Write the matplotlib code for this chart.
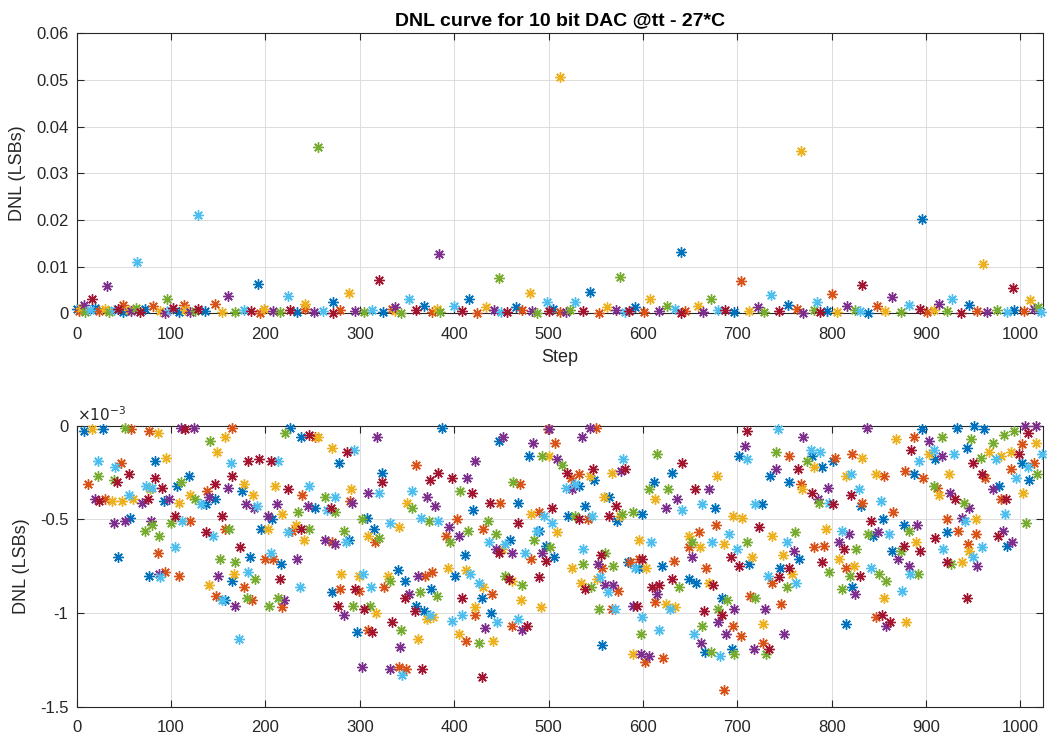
import matplotlib
matplotlib.use("Agg")
import matplotlib.pyplot as plt
from matplotlib.ticker import FuncFormatter

plt.rcParams.update({
    'font.family': ['Liberation Sans', 'DejaVu Sans'],
    'font.size': 12,
    'axes.unicode_minus': False,
})

# MATLAB default colour order
colors = ['#0072BD', '#D95319', '#EDB120', '#7E2F8E', '#77AC30', '#4DBEEE', '#A2142F']

# ---- top plot: positive DNL (LSB) ----
spike_steps = [128, 256, 384, 512, 640, 768, 896, 960]
spike_vals = [0.0211, 0.0357, 0.0127, 0.0506, 0.0131, 0.0348, 0.0203, 0.0107]

mid_steps = [8, 16, 32, 49, 64, 81, 96, 114, 146, 160,
             192, 224, 242, 272, 288, 320, 337, 352, 368, 400,
             416, 434, 448, 466, 480, 498, 528, 544, 562, 576,
             592, 608, 626, 658, 672, 704, 722, 736, 754, 784,
             800, 816, 832, 848, 864, 882, 914, 928, 946, 992,
             1010, 1019]
mid_vals = [0.0018, 0.0032, 0.0059, 0.0018, 0.0111, 0.0016, 0.0032, 0.0018, 0.0021, 0.0038,
            0.0063, 0.0038, 0.0021, 0.0025, 0.0043, 0.0071, 0.0014, 0.0030, 0.0016, 0.0016,
            0.0030, 0.0014, 0.0077, 0.0014, 0.0043, 0.0025, 0.0025, 0.0046, 0.0014, 0.0079,
            0.0014, 0.0030, 0.0016, 0.0016, 0.0032, 0.0069, 0.0014, 0.0039, 0.0019, 0.0025,
            0.0041, 0.0016, 0.0062, 0.0016, 0.0036, 0.0018, 0.0021, 0.0032, 0.0018, 0.0054,
            0.0029, 0.0014]

low_steps_a = [0, 2, 5, 9, 14, 19, 24, 30, 34, 39, 44, 49, 55, 58, 63, 67, 72, 88, 93, 99,
               102, 108, 115, 120, 125, 129, 136, 154, 168, 177, 185, 194, 198, 208, 215, 226,
               233, 242, 251, 261, 272, 279, 295, 304, 313, 325, 334]
low_vals_a = [0.0010, 0.0006, 0.0012, 0.0004, 0.0008, 0.0011, 0.0005, 0.0009, 0.0003, 0.0007,
              0.0010, 0.0004, 0.0008, 0.0006, 0.0012, 0.0003, 0.0009, 0.0005, 0.0002, 0.0007,
              0.0011, 0.0004, 0.0008, 0.0003, 0.0006, 0.0010, 0.0005, 0.0004, 0.0003, 0.0008,
              0.0006, 0.0002, 0.0009, 0.0005, 0.0003, 0.0007, 0.0004, 0.0010, 0.0003, 0.0006,
              0.0002, 0.0008, 0.0005, 0.0003, 0.0007, 0.0004, 0.0009]
low_steps_b = [337, 344, 360, 376, 382, 385, 408, 424, 442, 450, 456, 472, 482, 488, 500, 505,
               512, 518, 523, 537, 553, 571, 581, 585, 601, 617, 634, 640, 645, 664, 680]
low_vals_b = [0.0005, 0.0002, 0.0008, 0.0004, 0.0009, 0.0003, 0.0006, 0.0002, 0.0007, 0.0004,
              0.0003, 0.0008, 0.0005, 0.0002, 0.0006, 0.0009, 0.0004, 0.0003, 0.0007, 0.0005,
              0.0002, 0.0008, 0.0004, 0.0006, 0.0003, 0.0005, 0.0009, 0.0002, 0.0006, 0.0004,
              0.0007]
low_steps_c = [687, 696, 712, 728, 744, 763, 770, 781, 788, 795, 806, 825, 830, 838, 857, 873,
               894, 901, 908, 922, 937, 954, 965, 975, 986, 993, 1004, 1014, 1022]
low_vals_c = [0.0008, 0.0004, 0.0006, 0.0003, 0.0005, 0.0009, 0.0002, 0.0007, 0.0004, 0.0006,
              0.0003, 0.0008, 0.0005, 0.0002, 0.0006, 0.0004, 0.0009, 0.0003, 0.0007, 0.0005,
              0.0002, 0.0006, 0.0004, 0.0008, 0.0003, 0.0007, 0.0005, 0.0009, 0.0004]

# ---- bottom plot: negative DNL (x1e-3 LSB) ----
neg_steps_1 = [8, 16, 28, 51, 58, 77, 86, 110, 115, 124, 165, 141, 157, 149, 226, 221, 238, 246, 23, 83,
               95, 41, 47, 55, 23, 39, 43, 12, 73, 83, 90, 80, 78, 119, 106, 111, 146, 160, 163, 164,
               177, 182, 193, 206, 213, 210, 224, 239, 246, 175, 187, 19, 24, 30, 37, 48, 55, 60, 69, 76,
               92, 98, 108, 120, 125, 132, 138, 140, 147, 137, 179, 188, 191, 203, 212, 218, 234, 245, 39, 51,
               56, 79, 100, 104, 112, 120, 154, 207, 238, 232, 246, 224, 228, 241, 72, 80, 87, 137, 144, 157,
               161, 195, 203, 44, 86, 104, 152, 173, 184, 168, 206, 208, 200, 216, 233, 77, 87, 93, 88, 108,
               150, 167, 182, 189, 215, 237, 140, 148, 154, 157, 177, 165, 180, 186, 168, 204, 213, 220, 217, 172]
neg_vals_1 = [-0.03, -0.02, -0.02, -0.01, -0.02, -0.03, -0.04, -0.01, -0.02, -0.01,
              -0.01, -0.08, -0.06, -0.14, -0.01, -0.04, -0.06, -0.05, -0.19, -0.19,
              -0.17, -0.22, -0.20, -0.26, -0.27, -0.29, -0.30, -0.31, -0.32, -0.28,
              -0.33, -0.33, -0.34, -0.27, -0.32, -0.30, -0.31, -0.33, -0.20, -0.27,
              -0.31, -0.19, -0.18, -0.19, -0.19, -0.32, -0.34, -0.37, -0.32, -0.35,
              -0.37, -0.39, -0.40, -0.39, -0.40, -0.40, -0.37, -0.39, -0.41, -0.39,
              -0.40, -0.39, -0.41, -0.37, -0.39, -0.42, -0.35, -0.38, -0.39, -0.42,
              -0.42, -0.44, -0.43, -0.48, -0.42, -0.47, -0.46, -0.43, -0.52, -0.51,
              -0.49, -0.51, -0.52, -0.48, -0.51, -0.51, -0.48, -0.50, -0.55, -0.53,
              -0.55, -0.57, -0.56, -0.61, -0.56, -0.53, -0.59, -0.57, -0.59, -0.55,
              -0.55, -0.55, -0.55, -0.70, -0.68, -0.65, -0.71, -0.65, -0.70, -0.73,
              -0.68, -0.71, -0.71, -0.74, -0.71, -0.80, -0.79, -0.78, -0.81, -0.80,
              -0.80, -0.79, -0.78, -0.82, -0.82, -0.86, -0.85, -0.91, -0.93, -0.93,
              -0.86, -0.83, -0.92, -0.93, -0.96, -0.96, -0.92, -0.93, -0.97, -1.14]

neg_steps_2 = [253, 256, 270, 286, 294, 278, 318, 387, 291, 274, 263, 290, 292, 253, 265, 269, 274, 323, 323, 320,
               309, 302, 308, 283, 263, 270, 274, 285, 288, 309, 315, 316, 320, 332, 341, 359, 374, 383, 398, 414,
               355, 350, 355, 371, 380, 365, 373, 383, 394, 403, 391, 396, 405, 415, 411, 406, 419, 422, 447, 452,
               484, 479, 493, 500, 500, 462, 470, 420, 438, 449, 468, 430, 436, 444, 437, 451, 454, 459, 468, 481,
               490, 488, 490, 485, 493, 475, 481, 444, 447, 461, 454, 458, 461, 472, 490, 471, 492, 280, 299, 303,
               312, 295, 299, 326, 332, 330, 340, 348, 362, 369, 376, 393, 401, 412, 417, 270, 279, 277, 283, 293,
               304, 311, 317, 348, 352, 359, 358, 364, 375, 382, 368, 374, 371, 378, 398, 408, 426, 431, 440, 422,
               429, 439, 408, 422, 445, 433, 405, 412, 426, 441, 461, 468, 477, 472, 297, 309, 313, 334, 344, 362,
               343, 302, 332, 341, 345, 349, 366, 429]
neg_vals_2 = [-0.06, -0.06, -0.12, -0.14, -0.13, -0.20, -0.06, -0.01, -0.34, -0.38,
              -0.38, -0.40, -0.41, -0.44, -0.45, -0.44, -0.46, -0.25, -0.30, -0.36,
              -0.36, -0.50, -0.49, -0.56, -0.61, -0.62, -0.63, -0.62, -0.61, -0.59,
              -0.55, -0.62, -0.60, -0.52, -0.54, -0.21, -0.29, -0.25, -0.28, -0.28,
              -0.35, -0.41, -0.44, -0.38, -0.43, -0.49, -0.51, -0.51, -0.54, -0.50,
              -0.59, -0.62, -0.59, -0.56, -0.69, -0.35, -0.36, -0.19, -0.08, -0.06,
              -0.09, -0.16, -0.16, -0.16, -0.02, -0.30, -0.31, -0.45, -0.41, -0.41,
              -0.41, -0.55, -0.51, -0.58, -0.62, -0.66, -0.63, -0.61, -0.52, -0.47,
              -0.46, -0.56, -0.56, -0.61, -0.68, -0.68, -0.71, -0.66, -0.68, -0.68,
              -0.80, -0.82, -0.83, -0.85, -0.81, -0.93, -0.97, -0.79, -0.80, -0.79,
              -0.86, -0.87, -0.88, -0.86, -0.83, -0.80, -0.77, -0.83, -0.80, -0.80,
              -0.78, -0.76, -0.80, -0.77, -0.79, -0.89, -0.87, -0.96, -1.01, -0.96,
              -0.98, -0.96, -1.00, -0.92, -0.90, -0.96, -0.99, -0.89, -0.87, -0.91,
              -0.99, -1.01, -1.03, -1.02, -1.04, -0.92, -0.84, -0.86, -0.90, -0.97,
              -0.92, -1.00, -1.01, -1.01, -1.05, -1.08, -1.11, -1.15, -1.16, -1.15,
              -1.07, -1.03, -1.07, -1.09, -1.10, -1.09, -1.10, -1.05, -1.09, -1.14,
              -1.18, -1.29, -1.30, -1.29, -1.33, -1.30, -1.30, -1.34]

neg_steps_3 = [499, 544, 550, 535, 507, 509, 514, 520, 532, 524, 528, 525, 518, 532, 544, 548, 547, 579, 567, 577,
               581, 559, 564, 571, 539, 576, 578, 564, 573, 590, 599, 504, 521, 528, 532, 542, 546, 495, 504, 509,
               497, 502, 506, 497, 536, 525, 536, 552, 556, 560, 557, 568, 555, 551, 560, 563, 568, 574, 534, 539,
               545, 553, 567, 570, 557, 586, 592, 596, 589, 594, 599, 598, 589, 598, 606, 602, 621, 617, 615, 631,
               641, 679, 606, 613, 612, 627, 636, 624, 641, 655, 670, 663, 676, 695, 705, 596, 609, 599, 584, 596,
               603, 620, 633, 659, 649, 652, 673, 661, 649, 652, 677, 686, 691, 700, 693, 702, 667, 610, 617, 631,
               638, 649, 656, 670, 674, 615, 613, 624, 634, 629, 665, 684, 689, 696, 680, 684, 680, 663, 654, 688,
               695, 704, 662, 672, 666, 682, 694, 697, 686, 710, 702, 708, 710, 723, 741, 735, 755, 741, 755, 743,
               719, 726, 712, 716, 710, 737, 753, 748, 745, 755, 733, 737, 744, 753, 714, 719, 729, 746, 727, 750,
               718, 727, 734, 730]
neg_vals_3 = [-0.02, -0.01, -0.01, -0.06, -0.09, -0.18, -0.21, -0.25, -0.26, -0.28,
              -0.31, -0.34, -0.33, -0.32, -0.27, -0.29, -0.23, -0.18, -0.25, -0.24,
              -0.23, -0.38, -0.38, -0.43, -0.43, -0.48, -0.47, -0.48, -0.51, -0.46,
              -0.47, -0.44, -0.48, -0.48, -0.50, -0.50, -0.48, -0.48, -0.52, -0.57,
              -0.64, -0.65, -0.70, -0.72, -0.66, -0.76, -0.74, -0.74, -0.69, -0.68,
              -0.76, -0.75, -0.81, -0.82, -0.85, -0.89, -0.85, -0.88, -0.84, -0.87,
              -0.86, -0.98, -0.98, -0.98, -1.17, -0.73, -0.76, -0.71, -0.96, -0.96,
              -1.02, -1.11, -1.22, -1.22, -1.23, -1.26, -1.24, -1.09, -0.15, -0.25,
              -0.20, -0.27, -0.34, -0.39, -0.30, -0.34, -0.39, -0.44, -0.45, -0.34,
              -0.34, -0.42, -0.44, -0.48, -0.49, -0.61, -0.62, -0.71, -0.73, -0.76,
              -0.76, -0.75, -0.72, -0.57, -0.59, -0.62, -0.62, -0.65, -0.65, -0.70,
              -0.53, -0.63, -0.58, -0.66, -0.70, -0.75, -0.76, -0.86, -0.85, -0.82,
              -0.86, -0.82, -0.84, -0.84, -0.85, -0.90, -0.94, -0.95, -0.97, -0.98,
              -0.99, -0.92, -0.93, -0.98, -0.98, -1.01, -1.05, -1.07, -1.11, -1.11,
              -1.07, -1.12, -1.16, -1.21, -1.21, -1.23, -1.19, -1.22, -1.41, -0.03,
              -0.16, -0.11, -0.18, -0.54, -0.23, -0.27, -0.30, -0.14, -0.16, -0.02,
              -0.42, -0.42, -0.74, -0.70, -0.62, -0.59, -0.62, -0.69, -0.76, -0.76,
              -0.80, -0.84, -0.81, -0.86, -0.91, -0.92, -0.98, -0.95, -1.06, -1.11,
              -1.19, -1.16, -1.19, -1.22]

neg_steps_4 = [770, 778, 788, 779, 804, 801, 764, 774, 781, 790, 767, 769, 796, 779, 786, 787, 797, 801, 761, 760,
               765, 758, 762, 794, 781, 792, 790, 797, 808, 811, 818, 808, 813, 826, 815, 824, 819, 830, 811, 822,
               825, 815, 837, 822, 832, 815, 820, 821, 829, 832, 831, 847, 855, 852, 842, 854, 865, 838, 844, 849,
               861, 877, 882, 890, 864, 870, 873, 877, 889, 894, 882, 891, 883, 842, 850, 858, 856, 875, 847, 853,
               862, 858, 879, 868, 887, 884, 893, 878, 887, 896, 903, 903, 908, 917, 917, 897, 910, 908, 912, 914,
               924, 925, 931, 922, 910, 922, 918, 922, 926, 938, 930, 933, 951, 961, 943, 948, 958, 950, 940, 946,
               938, 941, 953, 934, 944, 953, 946, 950, 959, 954, 943, 959, 962, 971, 977, 979, 985, 967, 971, 979,
               974, 983, 993, 990, 999, 1002, 1008, 1005, 1017, 1017, 1002, 1008, 1014, 1023, 990, 995, 1009, 1018, 1003, 984,
               1006, 982, 976, 991, 986]
neg_vals_4 = [-0.06, -0.13, -0.14, -0.16, -0.17, -0.19, -0.23, -0.19, -0.22, -0.22,
              -0.31, -0.34, -0.33, -0.36, -0.39, -0.41, -0.41, -0.42, -0.57, -0.67,
              -0.71, -0.79, -0.84, -0.55, -0.65, -0.64, -0.73, -0.78, -0.71, -0.56,
              -0.58, -0.62, -0.66, -0.66, -0.76, -0.75, -0.80, -0.80, -0.87, -0.86,
              -0.90, -1.06, -0.01, -0.15, -0.17, -0.27, -0.26, -0.37, -0.34, -0.41,
              -0.43, -0.26, -0.27, -0.40, -0.51, -0.50, -0.46, -0.58, -0.59, -0.57,
              -0.58, -0.53, -0.56, -0.53, -0.67, -0.71, -0.67, -0.64, -0.62, -0.67,
              -0.75, -0.79, -0.79, -0.76, -0.79, -0.83, -0.92, -0.88, -1.02, -1.01,
              -1.05, -1.07, -1.05, -0.07, -0.06, -0.13, -0.19, -0.24, -0.26, -0.02,
              -0.08, -0.15, -0.13, -0.16, -0.06, -0.28, -0.18, -0.32, -0.33, -0.37,
              -0.26, -0.36, -0.39, -0.50, -0.60, -0.57, -0.66, -0.73, -0.74, -0.73,
              -0.15, -0.01, -0.00, -0.02, -0.12, -0.07, -0.17, -0.20, -0.41, -0.44,
              -0.49, -0.51, -0.50, -0.56, -0.63, -0.58, -0.67, -0.70, -0.65, -0.75,
              -0.92, -0.26, -0.28, -0.34, -0.32, -0.39, -0.39, -0.14, -0.09, -0.16,
              -0.18, -0.05, -0.03, -0.14, -0.15, -0.10, -0.04, -0.00, -0.00, -0.09,
              -0.20, -0.22, -0.20, -0.15, -0.23, -0.28, -0.29, -0.26, -0.36, -0.47,
              -0.52, -0.56, -0.59, -0.62, -0.64]


def draw_points(ax, steps, vals):
    # colour cycles along the step axis, one MATLAB colour per point
    pts = sorted(zip(steps, vals))
    xs = [p[0] for p in pts]
    ys = [p[1] for p in pts]
    for k, c in enumerate(colors):
        ax.plot(xs[k::7], ys[k::7], ls='none', marker=(8, 2, 0), ms=7.5,
                mew=1.0, color=c, clip_on=False, zorder=3)


def style_axes(ax):
    ax.grid(True, color='#dcdcdc', lw=0.7)
    ax.set_axisbelow(True)
    for s in ax.spines.values():
        s.set_color('#262626')
        s.set_linewidth(0.8)
    ax.tick_params(direction='in', top=True, right=True, length=5,
                   color='#262626', labelcolor='#262626', labelsize=12)
    ax.tick_params(axis='x', pad=9.5)
    ax.tick_params(axis='y', pad=6)
    ax.set_xlim(0, 1024)
    ax.set_xticks(range(0, 1001, 100))
    ax.yaxis.set_major_formatter(FuncFormatter(lambda v, p: f"{v:g}"))


fig = plt.figure(figsize=(10.47, 7.35), dpi=100)

ax1 = fig.add_axes([0.0733, 0.5735, 0.9229, 0.381])
draw_points(ax1, spike_steps + mid_steps + low_steps_a + low_steps_b + low_steps_c,
            spike_vals + mid_vals + low_vals_a + low_vals_b + low_vals_c)
style_axes(ax1)
ax1.set_ylim(0, 0.06)
ax1.set_yticks([0, 0.01, 0.02, 0.03, 0.04, 0.05, 0.06])
ax1.set_title('DNL curve for 10 bit DAC @tt - 27*C', fontsize=14, fontweight='bold',
              color='#000000', pad=6)
ax1.set_ylabel('DNL (LSBs)', fontsize=13, color='#262626', labelpad=7)
ax1.set_xlabel('Step', fontsize=13, color='#262626', labelpad=5)

ax2 = fig.add_axes([0.0733, 0.0385, 0.9229, 0.3823])
draw_points(ax2, neg_steps_1 + neg_steps_2 + neg_steps_3 + neg_steps_4,
            neg_vals_1 + neg_vals_2 + neg_vals_3 + neg_vals_4)
style_axes(ax2)
ax2.set_ylim(-1.5, 0)
ax2.set_yticks([-1.5, -1, -0.5, 0])
ax2.set_ylabel('DNL (LSBs)', fontsize=13, color='#262626', labelpad=7)
ax2.text(0.0, 1.005, r'$\times 10^{-3}$', transform=ax2.transAxes, ha='left', va='bottom',
         fontsize=11, color='#262626')

fig.savefig('out.png', dpi=100)
